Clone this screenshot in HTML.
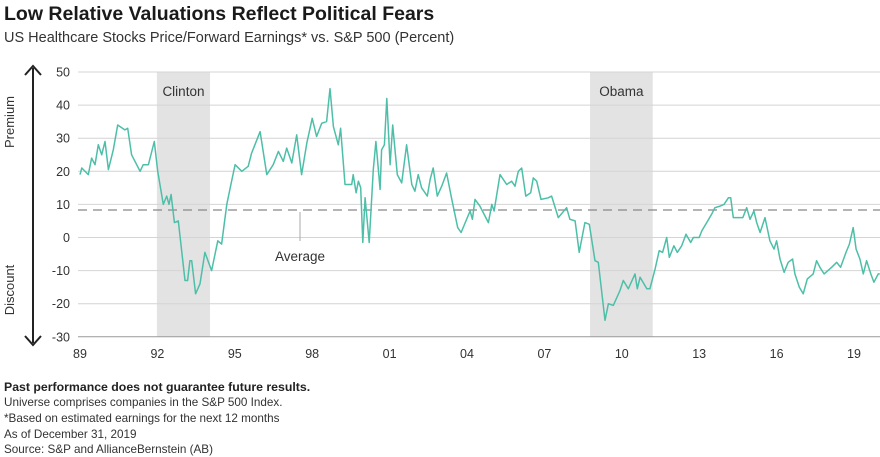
<!DOCTYPE html>
<html><head><meta charset="utf-8"><style>
body{margin:0;background:#fff;font-family:"Liberation Sans",sans-serif;}
#wrap{position:relative;width:880px;height:457px;overflow:hidden;}
.t{position:absolute;white-space:nowrap;color:#222;}
</style></head><body>
<div id="wrap">
<div class="t" style="left:4px;top:3px;font-size:19.5px;font-weight:bold;color:#1a1a1a;">Low Relative Valuations Reflect Political Fears</div>
<div class="t" style="left:4px;top:30px;font-size:14.5px;color:#333;">US Healthcare Stocks Price/Forward Earnings* vs. S&amp;P 500  (Percent)</div>
<svg id="chart" width="880" height="457" style="position:absolute;left:0;top:0"></svg>
<div class="t" style="left:4px;top:380px;font-size:12.3px;font-weight:bold;">Past performance does not guarantee future results.</div>
<div class="t" style="left:4px;top:396px;font-size:11.7px;color:#333;">Universe comprises companies in the S&amp;P 500 Index.</div>
<div class="t" style="left:4px;top:412px;font-size:11.7px;color:#333;">*Based on estimated earnings for the next 12 months</div>
<div class="t" style="left:4px;top:428px;font-size:11.7px;color:#333;">As of December 31, 2019</div>
<div class="t" style="left:4px;top:443px;font-size:11.7px;color:#333;">Source: S&amp;P and AllianceBernstein (AB)</div>
</div>
<script>
const years=[1989.0,1989.07,1989.32,1989.45,1989.58,1989.71,1989.84,1989.97,1990.10,1990.29,1990.46,1990.74,1990.85,1991.00,1991.33,1991.45,1991.65,1991.88,1992.01,1992.23,1992.36,1992.45,1992.53,1992.66,1992.81,1993.07,1993.17,1993.26,1993.33,1993.48,1993.65,1993.84,1994.10,1994.34,1994.49,1994.69,1994.85,1995.01,1995.27,1995.52,1995.65,1995.78,1995.98,1996.24,1996.49,1996.69,1996.88,1997.01,1997.21,1997.40,1997.59,1997.79,1998.00,1998.17,1998.37,1998.56,1998.69,1998.82,1999.01,1999.10,1999.27,1999.53,1999.59,1999.70,1999.79,1999.88,1999.96,2000.05,2000.21,2000.37,2000.47,2000.63,2000.69,2000.80,2000.89,2001.02,2001.12,2001.30,2001.47,2001.66,2001.86,2001.98,2002.11,2002.24,2002.46,2002.57,2002.69,2002.85,2003.02,2003.21,2003.41,2003.64,2003.77,2004.12,2004.21,2004.31,2004.50,2004.83,2004.96,2005.05,2005.28,2005.54,2005.73,2005.86,2005.99,2006.12,2006.28,2006.47,2006.57,2006.70,2006.87,2007.15,2007.28,2007.54,2007.86,2007.99,2008.19,2008.35,2008.57,2008.74,2008.96,2009.09,2009.35,2009.48,2009.67,2009.93,2010.06,2010.25,2010.51,2010.60,2010.71,2010.97,2011.09,2011.29,2011.45,2011.58,2011.74,2011.84,2012.02,2012.15,2012.32,2012.49,2012.67,2012.77,2013.00,2013.10,2013.29,2013.48,2013.61,2013.81,2013.96,2014.13,2014.22,2014.32,2014.69,2014.84,2014.97,2015.12,2015.23,2015.36,2015.55,2015.74,2015.90,2016.00,2016.13,2016.29,2016.45,2016.62,2016.71,2016.88,2017.03,2017.19,2017.42,2017.55,2017.68,2017.84,2018.13,2018.33,2018.48,2018.69,2018.82,2018.97,2019.08,2019.23,2019.36,2019.49,2019.65,2019.77,2019.94,2020.0];
const values=[19,21,19,24,22,28,25,29,20.5,26.5,34,32.5,33,25,20,22,22,29,20,10,12.5,10,13,4.5,5,-13,-13,-7,-7,-17,-14,-4.5,-10,-1,-2,10,16,22,20,21.5,25.5,28,32,19,22,26,23,27,22.5,31,19,28.5,36,30.5,34.5,35,45,33.5,28,33,16,16,19,13.5,17,15,-1.5,12,-1.5,20.5,29,14.5,26.5,28,42,22,34,19,16.5,28,16,14,19,15,12.5,17.5,21,12.5,15.5,19.5,11.5,3,1.5,8,5.5,11.5,9.5,4.5,10,8,19,16,17,15.5,20,21,12.5,13.5,18,17,11.5,12,12.5,6,9,5.5,5,-4.5,4.5,4,-7,-7.5,-25,-20,-20.5,-16,-13,-15.5,-11,-15.5,-12,-15.5,-15.5,-9.5,-4,-4.5,0,-6,-2.5,-4.5,-2.5,1,-1.5,0,0,2,4.5,7,9,9.5,10,12,12,6,6,9,5.5,8,4.5,1.5,6,-1,-3.5,-1,-6.5,-10.5,-7.5,-6.5,-11,-15,-17,-12.5,-11,-7,-9,-11,-9,-7.5,-9,-4.5,-2,3,-3.5,-6.5,-11,-7,-11,-13.5,-11,-11];
const yTicks=[50,40,30,20,10,0,-10,-20,-30];
const xTickYears=[1989,1992,1995,1998,2001,2004,2007,2010,2013,2016,2019];
const xTickLabels=["89","92","95","98","01","04","07","10","13","16","19"];
const average=8.3;
const shadeStart=[1991.98,2008.77];
const shadeEnd=[1994.04,2011.20];
const shadeLabels=["Clinton","Obama"];

const NS="http://www.w3.org/2000/svg";
const svg=document.getElementById('chart');
const X0=80,PX=25.8,L=78,R=880;
const x=y=>X0+(y-1989)*PX;
const yS=v=>237.5-v*3.31;
function mk(tag,attrs,parent){const e=document.createElementNS(NS,tag);for(const k in attrs)e.setAttribute(k,attrs[k]);(parent||svg).appendChild(e);return e;}
shadeStart.forEach((s,i)=>{
 const r=mk('rect',{x:x(s),y:yS(50),width:x(shadeEnd[i])-x(s),height:yS(-30)-yS(50),fill:'#e3e3e3'});
 
 
});
yTicks.forEach(v=>{
 const g=mk('line',{x1:L,x2:R,y1:yS(v),y2:yS(v),stroke:v===-30?'#999':'#d4d4d4','stroke-width':1});
 
 
 const t=mk('text',{x:70,y:yS(v)+4.5,'text-anchor':'end','font-size':12.5,fill:'#333','font-family':'Liberation Sans, sans-serif'});
 t.textContent=v;
 
 
});
xTickYears.forEach((yr,i)=>{
 const t=mk('text',{x:x(yr),y:358,'text-anchor':'middle','font-size':12.5,fill:'#333','font-family':'Liberation Sans, sans-serif'});
 t.textContent=xTickLabels[i];
 
 
});
shadeStart.forEach((s,i)=>{
 const t=mk('text',{x:(x(s)+x(shadeEnd[i]))/2,y:96,'text-anchor':'middle','font-size':13.5,fill:'#333','font-family':'Liberation Sans, sans-serif'});
 t.textContent=shadeLabels[i];
 
 
});
const avg=mk('line',{x1:L,x2:R,y1:yS(average),y2:yS(average),stroke:'#888','stroke-width':1.3,'stroke-dasharray':'9,6'});


const al=mk('line',{x1:300,x2:300,y1:yS(average)+2,y2:241,stroke:'#aaa','stroke-width':1});


const at=mk('text',{x:300,y:261,'text-anchor':'middle','font-size':13.5,fill:'#333','font-family':'Liberation Sans, sans-serif'});
at.textContent='Average';


const p=mk('polyline',{points:years.map((yr,i)=>x(yr).toFixed(1)+','+yS(values[i]).toFixed(1)).join(' '),fill:'none',stroke:'#4dbfa8','stroke-width':1.5,'stroke-linejoin':'round'});


const ar=mk('g',{});


mk('line',{x1:33,x2:33,y1:68,y2:343,stroke:'#222','stroke-width':2},ar);
mk('polyline',{points:'25,75 33,66 41,75',fill:'none',stroke:'#222','stroke-width':2},ar);
mk('polyline',{points:'25,336 33,345 41,336',fill:'none',stroke:'#222','stroke-width':2},ar);
const pt=mk('text',{x:0,y:0,transform:'translate(14,122) rotate(-90)','text-anchor':'middle','font-size':13,fill:'#333','font-family':'Liberation Sans, sans-serif'});
pt.textContent='Premium';


const dt=mk('text',{x:0,y:0,transform:'translate(14,290) rotate(-90)','text-anchor':'middle','font-size':13,fill:'#333','font-family':'Liberation Sans, sans-serif'});
dt.textContent='Discount';


</script>
</body></html>
